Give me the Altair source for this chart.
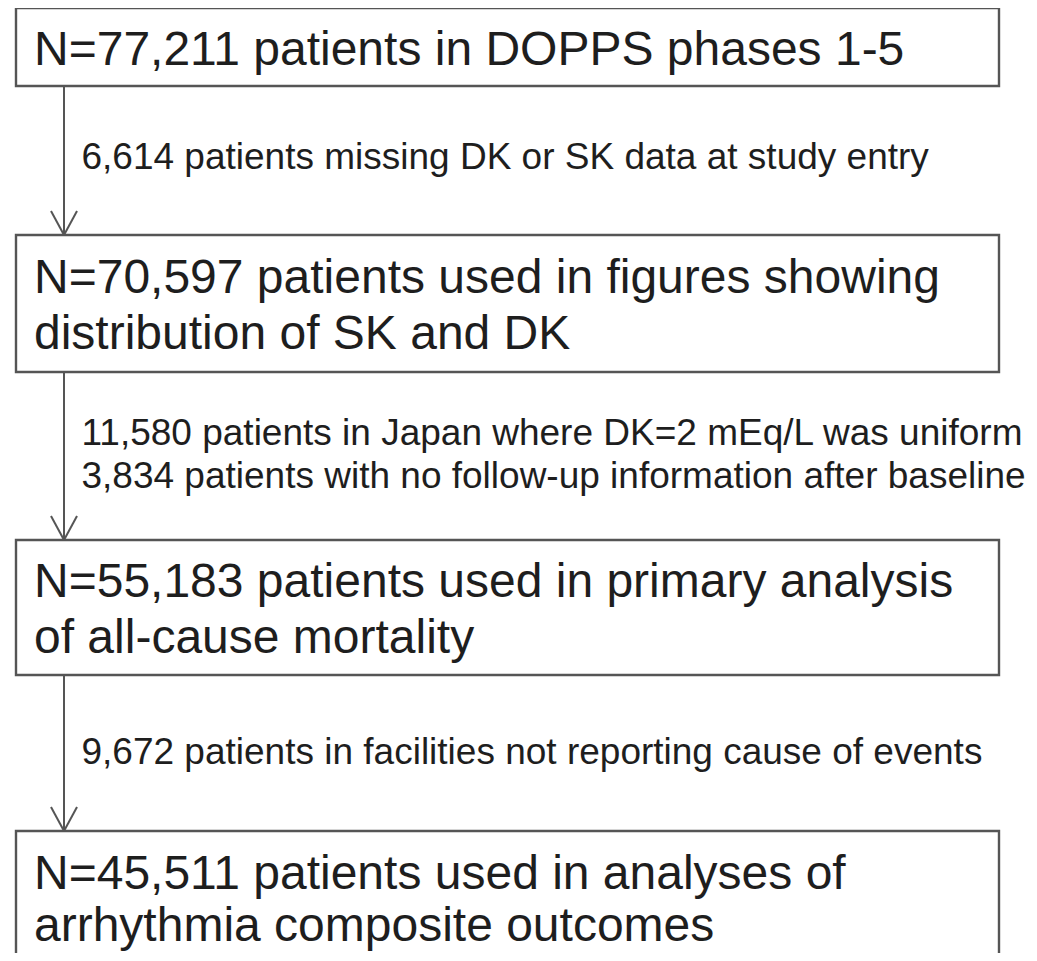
import altair as alt
import pandas as pd

# ---- content -------------------------------------------------------------
box_lines = [
    ["N=77,211 patients in DOPPS phases 1-5"],
    ["N=70,597 patients used in figures showing", "distribution of SK and DK"],
    ["N=55,183 patients used in primary analysis", "of all-cause mortality"],
    ["N=45,511 patients used in analyses of", "arrhythmia composite outcomes"],
]
exclusion_lines = [
    ["6,614 patients missing DK or SK data at study entry"],
    ["11,580 patients in Japan where DK=2 mEq/L was uniform",
     "3,834 patients with no follow-up information after baseline"],
    ["9,672 patients in facilities not reporting cause of events"],
]

# ---- layout (page pixel coordinates) -------------------------------------
W, H = 1021, 945
box_left, box_right = 16, 999
box_top = [8, 235, 540, 831]
box_bottom = [86, 372, 675, 1010]
box_baselines = [[65], [293, 349], [597, 653], [889, 941]]
exc_baselines = [[169], [445, 488], [764]]
arrow_x = 64
head_dx, head_dy = 13, 24
big_x, small_x = 34, 81.5
big_size, small_size = 48, 37
line_col = "#555555"
text_col = "#1e1e1e"
font = "Liberation Sans"

boxes = pd.DataFrame({
    "x": [box_left] * 4, "x2": [box_right] * 4,
    "y": box_top, "y2": box_bottom,
})

big_rows = []
for lines, bls in zip(box_lines, box_baselines):
    for t, b in zip(lines, bls):
        big_rows.append({"x": big_x, "y": b, "t": t})
big = pd.DataFrame(big_rows)

small_rows = []
for lines, bls in zip(exclusion_lines, exc_baselines):
    for t, b in zip(lines, bls):
        small_rows.append({"x": small_x, "y": b, "t": t})
small = pd.DataFrame(small_rows)

seg_rows = []
for i in range(3):
    y0, y1 = box_bottom[i], box_top[i + 1]
    seg_rows.append({"x": arrow_x, "y": y0, "x2": arrow_x, "y2": y1})
    seg_rows.append({"x": arrow_x - head_dx, "y": y1 - head_dy, "x2": arrow_x, "y2": y1})
    seg_rows.append({"x": arrow_x + head_dx, "y": y1 - head_dy, "x2": arrow_x, "y2": y1})
segs = pd.DataFrame(seg_rows)

xs = alt.Scale(domain=[8, 8 + W], range=[0, W], nice=False, zero=False)
ys = alt.Scale(domain=[8, 8 + H], range=[0, H], nice=False, zero=False)
X = lambda f: alt.X(f, type="quantitative", scale=xs, axis=None)
Y = lambda f: alt.Y(f, type="quantitative", scale=ys, axis=None)

rects = alt.Chart(boxes).mark_rect(
    fill="white", stroke=line_col, strokeWidth=2.4, clip=True
).encode(x=X("x"), x2="x2", y=Y("y"), y2="y2")

arrows = alt.Chart(segs).mark_rule(
    color=line_col, strokeWidth=2
).encode(x=X("x"), x2="x2", y=Y("y"), y2="y2")

big_text = alt.Chart(big).mark_text(
    align="left", baseline="alphabetic", font=font, fontSize=big_size, color=text_col
).encode(x=X("x"), y=Y("y"), text="t:N")

small_text = alt.Chart(small).mark_text(
    align="left", baseline="alphabetic", font=font, fontSize=small_size, color=text_col
).encode(x=X("x"), y=Y("y"), text="t:N")

chart = alt.layer(arrows, rects, big_text, small_text).properties(
    width=W, height=H, padding=0, autosize=alt.AutoSizeParams(type="none")
).configure_view(stroke=None)

chart.save("out.html", embed_options={"renderer": "svg", "actions": False})
